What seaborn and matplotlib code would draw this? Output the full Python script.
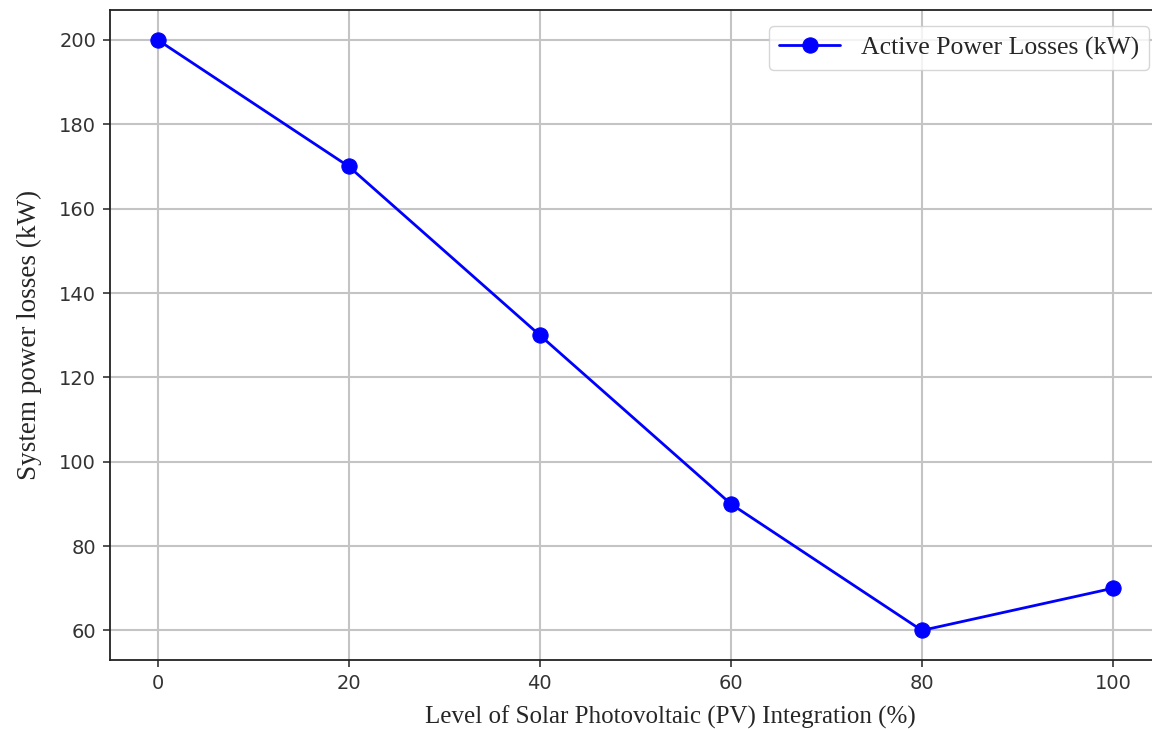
import pandas as pd
import matplotlib.pyplot as plt
import seaborn as sns

pv_level = [0, 20, 40, 60, 80, 100]
power_losses = [200, 170, 130, 90, 60, 70]

df = pd.DataFrame({"pv": pv_level, "loss": power_losses})

sns.set_style("ticks")
plt.rcParams['font.family'] = ['DejaVu Sans']

fig = plt.figure(figsize=(11.52, 7.29), dpi=100)
ax = fig.add_axes([0.0955, 0.0947, 0.912, 0.891])

sns.lineplot(data=df, x="pv", y="loss", ax=ax, color="blue", marker="o",
             markersize=11, markeredgecolor="blue", linewidth=2,
             label="Active Power Losses (kW)")

ax.set_xlim(-5, 105)
ax.set_ylim(53, 207)
ax.set_xticks(pv_level)
ax.set_yticks([60, 80, 100, 120, 140, 160, 180, 200])
ax.tick_params(labelsize=14, colors="#333333", length=5, width=1.2, pad=5)
ax.grid(True, color="#c4c4c4", linewidth=1.5)
for s in ax.spines.values():
    s.set_color("#222222")
    s.set_linewidth(1.3)

ax.set_xlabel("Level of Solar Photovoltaic (PV) Integration (%)",
              family="Liberation Serif", fontsize=18, labelpad=0)
ax.xaxis.set_label_coords(0.533, -0.07)
ax.set_ylabel("System power losses (kW)", family="Liberation Serif",
              fontsize=19.5, labelpad=12)
ax.legend(loc="upper right", prop={"family": "Liberation Serif", "size": 18.5},
          handlelength=2.4, borderaxespad=0.6, bbox_to_anchor=(1.004, 1.0))

fig.savefig("out.png", dpi=100)
